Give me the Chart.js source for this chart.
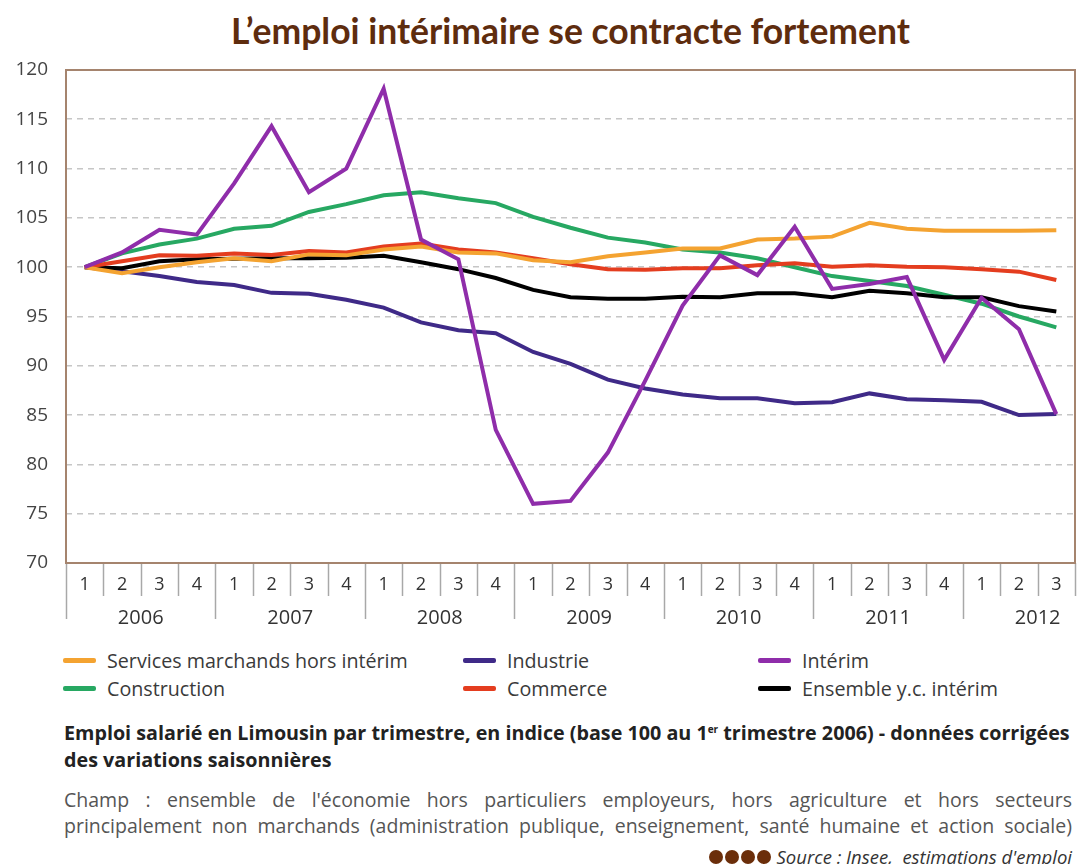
<!DOCTYPE html>
<html lang="fr">
<head>
<meta charset="utf-8">
<script src="https://cdn.jsdelivr.net/npm/chart.js@4.4.1/dist/chart.umd.min.js"></script>
<style>
  html, body { margin: 0; padding: 0; background: #fff; }
  body { width: 1077px; height: 864px; position: relative; overflow: hidden; font-family: "Open Sans", Lato, sans-serif; }
  #title { position: absolute; top: 9px; left: 66px; width: 1009px; text-align: center; font: bold 35.5px Lato, sans-serif; color: #5e2c0e; white-space: nowrap; }
  #wrap { position: absolute; top: 0; left: 0; width: 1077px; height: 640px; }
  #legend { position: absolute; top: 646px; left: 0; width: 1077px; height: 60px; }
  .lg { position: absolute; display: flex; align-items: center; font-size: 19.7px; color: #3a3a3a; white-space: nowrap; }
  .lg .sw { width: 33px; height: 5px; border-radius: 2px; margin-right: 11px; }
  #cap { position: absolute; top: 719px; left: 64px; width: 1012px; font-weight: bold; font-size: 17px; line-height: 27px; color: #222; white-space: nowrap; }
  #cap sup { font-size: 10px; vertical-align: 7px; line-height: 0; }
  #champ { position: absolute; top: 787px; left: 64px; width: 1008px; font-size: 18px; line-height: 26px; color: #555; text-align: left; text-align-last: left; }
  #src { position: absolute; top: 844px; right: 5px; font-size: 18.5px; color: #333; white-space: nowrap; display: flex; align-items: center; }
  #src .dot { display: inline-block; width: 14px; height: 14px; border-radius: 50%; background: #6b2e0a; margin-right: 2px; }
  #src i { font-style: italic; margin-left: 4px; }
</style>
</head>
<body>
<div id="title">L’emploi intérimaire se contracte fortement</div>
<div id="wrap"><canvas id="c" width="1077" height="640"></canvas></div>
<div id="legend"></div>
<div id="cap"><span id="cap1">Emploi salarié en Limousin par trimestre, en indice (base 100 au 1<sup>er</sup> trimestre 2006) - données corrigées</span><br>des variations saisonnières</div>
<div id="champ">Champ : ensemble de l'économie hors particuliers employeurs, hors agriculture et hors secteurs<br><span id="ch2" style="white-space:nowrap">principalement non marchands (administration publique, enseignement, santé humaine et action sociale)</span></div>
<div id="src"><span class="dot"></span><span class="dot"></span><span class="dot"></span><span class="dot"></span><i>Source : Insee,&nbsp; estimations d'emploi</i></div>
<script>
// ---- Data ----
const quarters = ['1','2','3','4','1','2','3','4','1','2','3','4','1','2','3','4','1','2','3','4','1','2','3','4','1','2','3'];
const years = ['2006','2007','2008','2009','2010','2011','2012'];
const yTicks = [70, 75, 80, 85, 90, 95, 100, 105, 110, 115, 120];

const servicesMarchands = [100, 99.4, 100.0, 100.5, 100.9, 100.6, 101.3, 101.2, 101.8, 102.1, 101.5, 101.4, 100.7, 100.5, 101.1, 101.5, 101.9, 101.9, 102.8, 102.9, 103.1, 104.5, 103.9, 103.7, 103.7, 103.7, 103.75];
const industrie = [100, 99.6, 99.1, 98.5, 98.2, 97.4, 97.3, 96.7, 95.9, 94.4, 93.6, 93.3, 91.4, 90.2, 88.6, 87.7, 87.1, 86.7, 86.7, 86.2, 86.3, 87.2, 86.6, 86.5, 86.35, 85.0, 85.1];
const interim = [100, 101.5, 103.8, 103.3, 108.5, 114.3, 107.6, 110.0, 118.1, 102.8, 100.8, 83.5, 76.0, 76.3, 81.2, 88.5, 96.1, 101.2, 99.2, 104.1, 97.8, 98.3, 99.0, 90.6, 96.9, 93.7, 85.1];
const construction = [100, 101.4, 102.3, 102.9, 103.9, 104.2, 105.6, 106.4, 107.3, 107.6, 107.0, 106.5, 105.1, 104.0, 103.0, 102.5, 101.8, 101.5, 100.9, 100.0, 99.1, 98.6, 98.1, 97.2, 96.3, 95.0, 93.9];
const commerce = [100, 100.6, 101.2, 101.15, 101.4, 101.25, 101.65, 101.5, 102.1, 102.4, 101.8, 101.5, 100.9, 100.3, 99.8, 99.75, 99.9, 99.9, 100.2, 100.4, 100.05, 100.2, 100.05, 100.0, 99.8, 99.55, 98.7];
const ensemble = [100, 99.9, 100.6, 100.8, 100.85, 100.9, 100.9, 100.95, 101.15, 100.5, 99.8, 98.9, 97.7, 96.95, 96.8, 96.8, 97.0, 96.95, 97.35, 97.35, 96.95, 97.6, 97.35, 96.95, 96.95, 96.05, 95.5];

const seriesNames = ['Services marchands hors intérim', 'Industrie', 'Intérim', 'Construction', 'Commerce', 'Ensemble y.c. intérim'];
const seriesColors = ['#f4a331', '#3f2a88', '#8f2daa', '#27a862', '#e43d1f', '#000000'];
const seriesData = [servicesMarchands, industrie, interim, construction, commerce, ensemble];
// drawing priority (first = on top)
const drawOrder = [2, 0, 4, 5, 3, 1];

// ---- Legend (HTML, 3 columns x 2 rows) ----
const legendCols = [63, 463, 758];
const legendRows = [660, 688];
const legendEl = document.getElementById('legend');
seriesNames.forEach((name, i) => {
  const d = document.createElement('div');
  d.className = 'lg';
  d.style.left = legendCols[i % 3] + 'px';
  d.style.top = (legendRows[Math.floor(i / 3)] - 646 - 12) + 'px';
  d.style.height = '24px';
  const sw = document.createElement('span');
  sw.className = 'sw';
  sw.style.background = seriesColors[i];
  const t = document.createElement('span');
  t.textContent = name;
  d.appendChild(sw); d.appendChild(t);
  legendEl.appendChild(d);
});

// fit caption lines to the reference width by font size
(function () {
  const cap = document.getElementById('cap');
  const s = document.getElementById('cap1');
  const w = s.getBoundingClientRect().width;
  cap.style.fontSize = (17 * 1008 / w).toFixed(2) + 'px';
  const ch = document.getElementById('champ');
  const s2 = document.getElementById('ch2');
  const w2 = s2.getBoundingClientRect().width;
  ch.style.fontSize = Math.min(19.5, 18 * 1004 / w2).toFixed(2) + 'px';
  ch.style.textAlign = 'justify';
  ch.style.textAlignLast = 'justify';
})();

// ---- Decorations plugin ----
const frameColor = '#a5846e';
const sepColor = '#a8a8a8';
const decor = {
  id: 'decor',
  afterDatasetsDraw(chart) {
    const ctx = chart.ctx, a = chart.chartArea, x = chart.scales.x;
    ctx.save();
    const n = quarters.length;
    const bounds = [];
    for (let i = 0; i <= n; i++) {
      let px;
      if (i === 0) px = a.left;
      else if (i === n) px = a.right;
      else px = (x.getPixelForValue(i - 1) + x.getPixelForValue(i)) / 2;
      bounds.push(px);
    }
    ctx.strokeStyle = sepColor;
    ctx.lineWidth = 1.5;
    bounds.forEach((px, i) => {
      const long = (i % 4 === 0) && i < n;
      ctx.beginPath();
      ctx.moveTo(Math.round(px) + 0.5, a.bottom);
      ctx.lineTo(Math.round(px) + 0.5, a.bottom + (long ? 56 : 33));
      ctx.stroke();
    });
    ctx.fillStyle = '#333';
    ctx.font = '20px "Open Sans", sans-serif';
    ctx.textAlign = 'center';
    ctx.textBaseline = 'middle';
    const step = x.getPixelForValue(1) - x.getPixelForValue(0);
    years.forEach((y, k) => {
      const cx = x.getPixelForValue(k * 4) - step / 2 + 2 * step;
      ctx.fillText(y, cx, a.bottom + 55);
    });
    ctx.strokeStyle = frameColor;
    ctx.lineWidth = 2;
    ctx.strokeRect(a.left, a.top, a.right - a.left, a.bottom - a.top);
    ctx.restore();
  }
};

const datasets = drawOrder.map(i => ({
  label: seriesNames[i],
  data: seriesData[i],
  borderColor: seriesColors[i],
  backgroundColor: seriesColors[i],
  borderWidth: 4,
  pointRadius: 0,
  tension: 0,
  fill: false,
  borderJoinStyle: 'miter'
}));

new Chart(document.getElementById('c'), {
  type: 'line',
  data: { labels: quarters, datasets },
  options: {
    responsive: false,
    devicePixelRatio: 1,
    animation: false,
    layout: { padding: { top: 70, right: 2, left: 0, bottom: 0 } },
    plugins: { legend: { display: false }, title: { display: false }, tooltip: { enabled: false } },
    scales: {
      x: {
        type: 'category',
        offset: true,
        grid: { display: false, drawTicks: false },
        border: { display: false },
        ticks: { color: '#333', font: { family: 'Open Sans', size: 18 }, padding: 11, autoSkip: false, maxRotation: 0 },
        afterFit(s) { s.height = 77; }
      },
      y: {
        min: 70, max: 120,
        afterBuildTicks(s) { s.ticks = yTicks.map(v => ({ value: v })); },
        grid: {
          drawTicks: false,
          lineWidth: 1.6,
          color: (c) => (c.tick && (c.tick.value === 70 || c.tick.value === 120)) ? 'rgba(0,0,0,0)' : '#c6c6c6'
        },
        border: { display: false, dash: [6, 5] },
        ticks: { color: '#444', font: { family: 'Open Sans', size: 19 }, padding: 18 },
        afterFit(s) { s.width = 66; }
      }
    }
  },
  plugins: [decor]
});
</script>
</body>
</html>
